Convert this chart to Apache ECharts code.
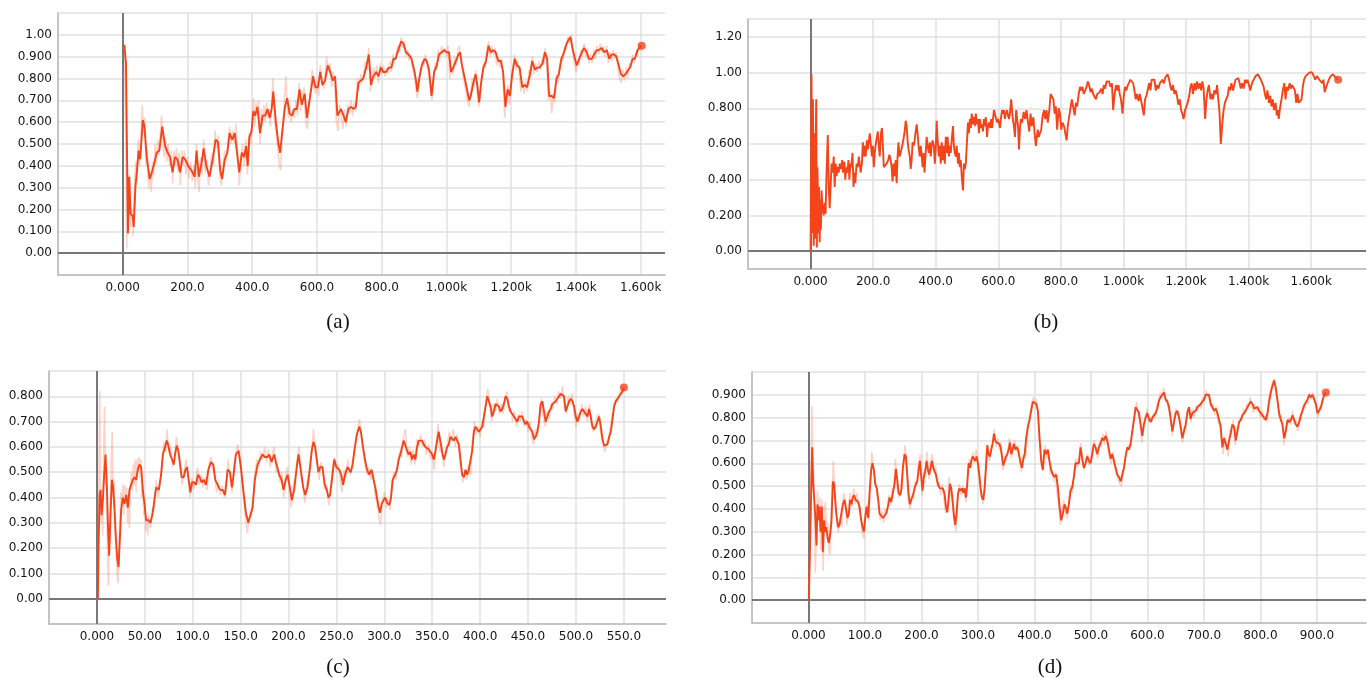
<!DOCTYPE html>
<html><head><meta charset="utf-8">
<script src="https://cdn.jsdelivr.net/npm/echarts@6/dist/echarts.min.js"></script>
<style>html,body{margin:0;padding:0;background:#fff}#c{width:1367px;height:678px}</style>
</head><body><div id="c"></div>
<script>
// ---------- data (step, value) ----------
const smoothA = [[5,0.954],[10,0.87],[16,0.09],[20,0.35],[24,0.18],[31,0.17],[34,0.12],[39,0.30],[44,0.38],[49,0.47],[54,0.43],[62,0.61],[67,0.58],[74,0.44],[83,0.34],[90,0.37],[97,0.41],[105,0.46],[113,0.47],[122,0.58],[131,0.49],[139,0.46],[146,0.44],[154,0.37],[161,0.44],[169,0.43],[177,0.37],[185,0.44],[193,0.43],[202,0.40],[212,0.38],[222,0.35],[228,0.47],[235,0.35],[243,0.41],[250,0.48],[258,0.40],[268,0.35],[279,0.44],[287,0.52],[294,0.51],[301,0.38],[307,0.34],[315,0.43],[323,0.46],[330,0.55],[338,0.52],[346,0.55],[352,0.55],[360,0.37],[368,0.46],[375,0.44],[381,0.49],[386,0.40],[391,0.53],[398,0.56],[403,0.65],[409,0.63],[416,0.67],[424,0.55],[432,0.63],[440,0.63],[447,0.66],[454,0.62],[460,0.66],[465,0.74],[473,0.60],[481,0.50],[486,0.46],[493,0.56],[501,0.67],[508,0.71],[515,0.64],[523,0.63],[530,0.66],[538,0.66],[546,0.75],[553,0.68],[562,0.73],[569,0.62],[579,0.72],[588,0.81],[595,0.76],[603,0.76],[610,0.83],[617,0.77],[625,0.79],[633,0.86],[641,0.83],[649,0.79],[656,0.81],[663,0.63],[674,0.66],[682,0.63],[689,0.60],[697,0.66],[705,0.67],[713,0.66],[720,0.67],[728,0.78],[735,0.79],[743,0.80],[752,0.85],[760,0.91],[767,0.77],[774,0.81],[783,0.83],[790,0.81],[797,0.85],[805,0.83],[813,0.83],[822,0.85],[830,0.85],[836,0.89],[843,0.89],[851,0.93],[860,0.97],[867,0.96],[875,0.92],[883,0.91],[892,0.89],[900,0.84],[906,0.79],[910,0.74],[917,0.81],[924,0.86],[932,0.89],[939,0.88],[946,0.84],[954,0.72],[962,0.83],[970,0.86],[977,0.91],[985,0.92],[992,0.93],[1001,0.92],[1008,0.92],[1014,0.83],[1021,0.85],[1029,0.88],[1037,0.91],[1042,0.92],[1048,0.86],[1055,0.81],[1062,0.76],[1070,0.70],[1075,0.72],[1083,0.78],[1090,0.82],[1096,0.76],[1101,0.69],[1107,0.78],[1114,0.85],[1122,0.88],[1130,0.95],[1137,0.92],[1145,0.93],[1152,0.92],[1160,0.88],[1168,0.88],[1175,0.83],[1182,0.67],[1189,0.75],[1196,0.72],[1203,0.82],[1211,0.89],[1218,0.86],[1226,0.85],[1234,0.76],[1242,0.77],[1249,0.76],[1258,0.82],[1265,0.88],[1273,0.84],[1280,0.85],[1288,0.85],[1297,0.87],[1304,0.92],[1311,0.89],[1317,0.72],[1325,0.72],[1332,0.71],[1340,0.80],[1347,0.82],[1355,0.89],[1363,0.92],[1371,0.96],[1378,0.98],[1383,0.99],[1389,0.94],[1397,0.89],[1402,0.86],[1410,0.89],[1418,0.92],[1425,0.94],[1433,0.92],[1440,0.89],[1449,0.89],[1456,0.91],[1464,0.93],[1471,0.93],[1479,0.94],[1487,0.92],[1495,0.93],[1503,0.89],[1510,0.91],[1518,0.91],[1525,0.90],[1532,0.86],[1539,0.82],[1546,0.81],[1553,0.82],[1559,0.82],[1567,0.85],[1575,0.89],[1582,0.89],[1590,0.93],[1596,0.94],[1603,0.95]];

const rawA = [[2,0.95],[6,0.92],[9,0.55],[12,0.02],[15,0.30],[18,0.10],[21,0.36],[25,0.12],[28,0.20],[32,0.08],[36,0.30],[40,0.42],[44,0.33],[48,0.52],[52,0.40],[56,0.55],[60,0.68],[64,0.55],[68,0.62],[72,0.40],[76,0.47],[80,0.30],[84,0.38],[88,0.28],[92,0.42],[96,0.36],[100,0.50],[104,0.41],[108,0.52],[112,0.45],[116,0.55],[120,0.63],[124,0.52],[128,0.44],[132,0.53],[136,0.42],[140,0.50],[145,0.40],[150,0.47],[154,0.32],[158,0.47],[162,0.40],[166,0.48],[170,0.37],[174,0.46],[178,0.31],[182,0.47],[186,0.40],[190,0.47],[195,0.36],[200,0.44],[205,0.34],[210,0.42],[215,0.33],[220,0.40],[224,0.30],[228,0.50],[232,0.33],[236,0.28],[240,0.44],[245,0.36],[250,0.52],[255,0.37],[260,0.43],[265,0.31],[270,0.38],[275,0.46],[280,0.40],[285,0.56],[290,0.48],[295,0.54],[300,0.35],[305,0.31],[310,0.40],[315,0.47],[320,0.42],[325,0.50],[330,0.58],[335,0.50],[340,0.56],[345,0.50],[350,0.59],[355,0.45],[360,0.31],[365,0.44],[370,0.50],[375,0.40],[380,0.52],[385,0.36],[390,0.55],[395,0.50],[400,0.60],[404,0.71],[408,0.58],[412,0.69],[416,0.63],[420,0.70],[424,0.50],[428,0.66],[432,0.58],[436,0.68],[440,0.60],[444,0.69],[448,0.62],[452,0.66],[456,0.58],[460,0.70],[464,0.80],[468,0.62],[472,0.57],[476,0.52],[480,0.46],[484,0.40],[488,0.38],[492,0.53],[496,0.60],[500,0.72],[504,0.81],[508,0.67],[512,0.62],[516,0.68],[520,0.60],[525,0.66],[530,0.62],[535,0.70],[540,0.63],[545,0.78],[550,0.65],[555,0.72],[560,0.76],[565,0.60],[570,0.57],[575,0.68],[580,0.75],[585,0.84],[590,0.77],[595,0.73],[600,0.79],[605,0.72],[610,0.86],[615,0.80],[620,0.75],[625,0.82],[630,0.90],[635,0.83],[640,0.87],[645,0.76],[650,0.83],[655,0.78],[660,0.60],[665,0.56],[670,0.68],[675,0.62],[680,0.57],[685,0.66],[690,0.58],[695,0.68],[700,0.64],[705,0.70],[710,0.63],[715,0.69],[720,0.65],[725,0.80],[730,0.75],[735,0.82],[740,0.78],[745,0.83],[750,0.88],[755,0.84],[760,0.94],[765,0.74],[770,0.79],[775,0.85],[780,0.80],[785,0.86],[790,0.78],[795,0.87],[800,0.82],[805,0.86],[810,0.81],[815,0.85],[820,0.82],[825,0.88],[830,0.83],[835,0.91],[840,0.87],[845,0.92],[850,0.95],[855,0.92],[860,0.99],[865,0.94],[870,0.97],[875,0.90],[880,0.93],[885,0.88],[890,0.91],[895,0.85],[900,0.82],[905,0.76],[910,0.71],[915,0.78],[920,0.84],[925,0.88],[930,0.86],[935,0.91],[940,0.86],[945,0.82],[950,0.76],[955,0.70],[960,0.80],[965,0.87],[970,0.84],[975,0.93],[980,0.90],[985,0.95],[990,0.91],[995,0.94],[1000,0.90],[1005,0.95],[1010,0.80],[1015,0.86],[1020,0.82],[1025,0.90],[1030,0.86],[1035,0.93],[1040,0.95],[1045,0.88],[1050,0.83],[1055,0.78],[1060,0.74],[1065,0.70],[1070,0.67],[1075,0.74],[1080,0.80],[1085,0.76],[1090,0.84],[1095,0.73],[1100,0.67],[1105,0.75],[1110,0.82],[1115,0.87],[1120,0.85],[1125,0.93],[1130,0.97],[1135,0.90],[1140,0.95],[1145,0.91],[1150,0.94],[1155,0.86],[1160,0.90],[1165,0.85],[1170,0.89],[1175,0.80],[1180,0.62],[1185,0.72],[1190,0.77],[1195,0.68],[1200,0.78],[1205,0.85],[1210,0.91],[1215,0.84],[1220,0.88],[1225,0.82],[1230,0.74],[1235,0.79],[1240,0.73],[1245,0.79],[1250,0.74],[1255,0.84],[1260,0.80],[1265,0.90],[1270,0.82],[1275,0.87],[1280,0.83],[1285,0.88],[1290,0.84],[1295,0.89],[1300,0.86],[1305,0.94],[1310,0.87],[1315,0.70],[1320,0.74],[1325,0.64],[1330,0.73],[1335,0.69],[1340,0.82],[1345,0.78],[1350,0.86],[1355,0.90],[1360,0.88],[1365,0.95],[1370,0.93],[1375,0.99],[1380,0.96],[1385,1.00],[1390,0.92],[1395,0.87],[1400,0.83],[1405,0.88],[1410,0.86],[1415,0.93],[1420,0.90],[1425,0.96],[1430,0.90],[1435,0.94],[1440,0.87],[1445,0.91],[1450,0.87],[1455,0.93],[1460,0.89],[1465,0.95],[1470,0.91],[1475,0.96],[1480,0.92],[1485,0.95],[1490,0.90],[1495,0.95],[1500,0.87],[1505,0.92],[1510,0.88],[1515,0.93],[1520,0.89],[1525,0.92],[1530,0.84],[1535,0.80],[1540,0.78],[1545,0.84],[1550,0.79],[1555,0.85],[1560,0.80],[1565,0.87],[1570,0.85],[1575,0.91],[1580,0.87],[1585,0.92],[1590,0.90],[1595,0.96],[1600,0.93],[1603,0.95]];

const lineB = [[0,0.0],[3,0.99],[5,0.10],[7.5,0.85],[10,0.03],[12,0.66],[14,0.07],[16,0.57],[18,0.85],[20,0.02],[22,0.47],[25,0.10],[27,0.36],[29,0.05],[31,0.29],[33,0.12],[35,0.34],[38,0.25],[42,0.20],[45,0.27],[48,0.21],[51,0.44],[55,0.65],[58,0.36],[61,0.24],[64,0.36],[67,0.49],[71,0.44],[74,0.53],[77,0.36],[80,0.49],[83,0.42],[87,0.47],[90,0.44],[93,0.49],[97,0.46],[101,0.51],[104,0.44],[108,0.50],[111,0.40],[114,0.47],[118,0.44],[121,0.51],[124,0.40],[127,0.49],[130,0.47],[134,0.55],[137,0.36],[140,0.44],[143,0.38],[147,0.49],[151,0.47],[154,0.53],[157,0.49],[160,0.44],[164,0.49],[167,0.61],[170,0.53],[173,0.59],[176,0.53],[180,0.62],[183,0.57],[186,0.61],[189,0.66],[193,0.59],[196,0.53],[199,0.59],[202,0.47],[205,0.55],[209,0.61],[212,0.64],[215,0.67],[218,0.59],[221,0.53],[225,0.66],[228,0.69],[231,0.59],[234,0.47],[238,0.47],[243,0.49],[248,0.51],[252,0.54],[256,0.51],[259,0.47],[262,0.39],[265,0.49],[268,0.42],[272,0.51],[275,0.38],[278,0.53],[281,0.61],[284,0.53],[288,0.55],[291,0.54],[294,0.60],[297,0.61],[300,0.66],[304,0.73],[307,0.70],[310,0.62],[313,0.57],[317,0.53],[320,0.46],[323,0.51],[326,0.61],[329,0.59],[332,0.61],[335,0.66],[339,0.71],[342,0.66],[345,0.59],[349,0.53],[352,0.59],[355,0.53],[358,0.47],[361,0.55],[364,0.44],[368,0.43],[371,0.64],[374,0.59],[378,0.55],[381,0.61],[384,0.53],[387,0.59],[390,0.62],[394,0.59],[397,0.49],[400,0.57],[403,0.73],[406,0.62],[410,0.53],[413,0.59],[416,0.49],[419,0.61],[422,0.51],[425,0.59],[429,0.49],[432,0.64],[435,0.55],[438,0.64],[442,0.53],[445,0.59],[448,0.55],[451,0.62],[455,0.70],[458,0.59],[461,0.55],[464,0.53],[467,0.59],[471,0.49],[474,0.55],[477,0.47],[480,0.51],[483,0.42],[487,0.34],[490,0.49],[493,0.46],[496,0.49],[500,0.62],[503,0.72],[506,0.66],[509,0.74],[512,0.69],[515,0.77],[519,0.71],[522,0.75],[525,0.70],[528,0.77],[532,0.71],[535,0.74],[538,0.66],[541,0.74],[545,0.69],[548,0.71],[551,0.67],[554,0.74],[557,0.70],[560,0.75],[564,0.64],[567,0.70],[570,0.72],[574,0.69],[577,0.74],[580,0.69],[583,0.74],[586,0.79],[590,0.80],[593,0.74],[596,0.72],[599,0.74],[602,0.72],[605,0.69],[608,0.74],[612,0.79],[615,0.77],[618,0.79],[621,0.74],[624,0.77],[628,0.79],[631,0.76],[634,0.74],[637,0.77],[641,0.85],[644,0.79],[647,0.73],[650,0.70],[653,0.64],[657,0.79],[660,0.74],[663,0.70],[666,0.57],[669,0.68],[672,0.74],[676,0.72],[681,0.78],[686,0.74],[690,0.79],[695,0.72],[699,0.67],[703,0.77],[707,0.70],[712,0.75],[716,0.66],[720,0.59],[722,0.58],[726,0.68],[729,0.64],[733,0.65],[737,0.68],[741,0.75],[746,0.79],[750,0.74],[754,0.79],[758,0.72],[763,0.79],[767,0.88],[771,0.87],[776,0.85],[780,0.77],[784,0.81],[788,0.68],[793,0.80],[797,0.77],[801,0.68],[805,0.72],[810,0.70],[814,0.71],[818,0.62],[822,0.70],[827,0.76],[831,0.77],[835,0.85],[839,0.81],[844,0.76],[848,0.83],[852,0.81],[856,0.87],[861,0.92],[865,0.90],[869,0.92],[873,0.88],[878,0.89],[882,0.92],[886,0.95],[890,0.93],[895,0.89],[899,0.91],[903,0.88],[907,0.87],[912,0.85],[916,0.88],[920,0.87],[924,0.89],[929,0.91],[933,0.88],[937,0.93],[941,0.91],[946,0.95],[950,0.94],[954,0.95],[958,0.92],[963,0.94],[967,0.79],[971,0.87],[976,0.93],[980,0.90],[984,0.93],[988,0.88],[992,0.85],[997,0.77],[1001,0.87],[1005,0.92],[1009,0.90],[1014,0.93],[1018,0.94],[1022,0.96],[1026,0.97],[1031,0.94],[1035,0.90],[1039,0.85],[1043,0.88],[1048,0.84],[1052,0.88],[1056,0.87],[1060,0.81],[1065,0.76],[1069,0.85],[1073,0.87],[1077,0.90],[1082,0.94],[1086,0.90],[1090,0.96],[1095,0.95],[1099,0.96],[1103,0.90],[1107,0.93],[1112,0.91],[1116,0.94],[1120,0.95],[1124,0.96],[1129,0.94],[1133,0.97],[1137,0.98],[1141,0.99],[1146,0.96],[1150,0.92],[1154,0.90],[1158,0.93],[1163,0.88],[1167,0.90],[1171,0.87],[1175,0.82],[1180,0.85],[1184,0.79],[1188,0.77],[1192,0.74],[1197,0.79],[1201,0.78],[1205,0.83],[1210,0.87],[1214,0.92],[1218,0.94],[1222,0.88],[1227,0.94],[1231,0.90],[1235,0.95],[1239,0.91],[1244,0.94],[1248,0.90],[1252,0.95],[1256,0.91],[1261,0.74],[1265,0.85],[1269,0.90],[1273,0.93],[1278,0.85],[1282,0.88],[1286,0.85],[1290,0.90],[1295,0.88],[1299,0.93],[1303,0.85],[1307,0.77],[1311,0.60],[1316,0.72],[1320,0.79],[1324,0.83],[1328,0.85],[1333,0.87],[1337,0.92],[1341,0.90],[1345,0.94],[1350,0.90],[1354,0.93],[1358,0.96],[1362,0.95],[1367,0.97],[1371,0.94],[1375,0.91],[1379,0.94],[1384,0.91],[1388,0.96],[1392,0.94],[1396,0.96],[1401,0.93],[1405,0.90],[1409,0.93],[1413,0.95],[1418,0.96],[1422,0.98],[1426,0.99],[1430,0.99],[1435,0.98],[1439,0.96],[1443,0.95],[1448,0.92],[1452,0.88],[1456,0.85],[1460,0.90],[1465,0.83],[1469,0.87],[1473,0.81],[1477,0.85],[1481,0.79],[1486,0.83],[1490,0.76],[1494,0.79],[1496,0.74],[1501,0.81],[1505,0.85],[1509,0.90],[1514,0.94],[1518,0.85],[1522,0.92],[1526,0.90],[1531,0.94],[1535,0.91],[1539,0.93],[1543,0.94],[1548,0.90],[1552,0.83],[1556,0.88],[1560,0.83],[1565,0.83],[1569,0.85],[1573,0.92],[1577,0.96],[1582,0.98],[1588,0.99],[1594,1.00],[1603,1.00],[1609,0.99],[1613,0.96],[1618,0.98],[1622,0.99],[1626,0.96],[1630,0.97],[1635,0.94],[1639,0.96],[1643,0.89],[1648,0.92],[1652,0.94],[1656,0.96],[1662,0.98],[1669,0.99],[1675,0.99],[1679,0.97],[1686,0.96]];

const smoothC = [[1,0.0],[1.7,0.20],[2.8,0.41],[3.8,0.43],[4.9,0.33],[6.2,0.39],[7.6,0.49],[9,0.57],[10.4,0.44],[11.8,0.26],[12.8,0.17],[14.2,0.34],[15.6,0.47],[17,0.44],[18.4,0.35],[19.8,0.24],[21.2,0.16],[22.6,0.125],[24,0.24],[25.3,0.35],[27,0.40],[28.8,0.375],[30.6,0.41],[32.3,0.36],[34,0.43],[35.8,0.43],[37.5,0.47],[39.2,0.48],[41,0.47],[42.7,0.51],[44.4,0.53],[46.2,0.52],[47.9,0.43],[49.7,0.375],[51.4,0.31],[53.8,0.31],[55.9,0.30],[58.3,0.34],[60,0.39],[61.8,0.44],[64.6,0.43],[67,0.49],[68.8,0.57],[71.2,0.60],[72.9,0.625],[74.6,0.605],[76.4,0.57],[78.5,0.55],[80.2,0.53],[81.6,0.57],[83.3,0.605],[85,0.585],[86.8,0.53],[88.5,0.48],[90.6,0.48],[92.4,0.51],[94.1,0.52],[95.8,0.47],[97.6,0.42],[99.3,0.46],[101.4,0.46],[103.5,0.45],[105.5,0.49],[107.3,0.48],[109.4,0.46],[111.5,0.47],[113.9,0.45],[116.3,0.51],[119.1,0.54],[121.5,0.53],[123.6,0.47],[126,0.45],[128.5,0.43],[131.2,0.43],[133.7,0.41],[136.5,0.51],[138.9,0.50],[141,0.44],[142.7,0.49],[145.1,0.57],[147.9,0.585],[150.3,0.52],[152.8,0.43],[155.5,0.34],[158,0.30],[160,0.30],[162.5,0.36],[164.9,0.47],[167.7,0.53],[170.1,0.55],[172.9,0.57],[175.3,0.56],[178.1,0.56],[179.8,0.57],[182.3,0.54],[185,0.57],[187.5,0.53],[190.3,0.49],[192.7,0.47],[194.8,0.43],[197.2,0.47],[199,0.49],[201.4,0.44],[203.5,0.39],[205.9,0.43],[208.3,0.51],[210.4,0.57],[212.8,0.51],[215.3,0.44],[217.4,0.41],[219.8,0.44],[222.2,0.51],[224.3,0.585],[226,0.62],[227.8,0.60],[229.5,0.55],[231.2,0.50],[233,0.52],[235.4,0.52],[237.8,0.45],[239.9,0.43],[241.7,0.40],[243.4,0.41],[245.3,0.47],[247.7,0.55],[250,0.52],[253,0.51],[255,0.49],[257,0.45],[259,0.49],[261.6,0.52],[263.4,0.51],[265,0.50],[266.9,0.53],[269.3,0.60],[271.4,0.65],[273.8,0.68],[275.6,0.66],[277.3,0.61],[279.8,0.55],[281.9,0.51],[284.3,0.49],[286.7,0.51],[288.8,0.47],[290.6,0.44],[292.3,0.40],[294.1,0.36],[295.5,0.34],[297.2,0.375],[299.3,0.39],[301,0.40],[302.8,0.38],[305.2,0.37],[307,0.40],[308.7,0.47],[311.2,0.49],[313.3,0.51],[315,0.55],[316.7,0.57],[318.5,0.60],[320.2,0.625],[322,0.63],[323.7,0.585],[325.5,0.57],[327.2,0.58],[328.9,0.55],[330.7,0.57],[332.4,0.55],[334.2,0.60],[335.9,0.625],[337.7,0.62],[339.4,0.625],[341.1,0.61],[342.9,0.60],[344.6,0.60],[346.4,0.59],[348.1,0.585],[349.9,0.57],[351.6,0.55],[353.4,0.585],[355.1,0.625],[356.8,0.66],[358.6,0.62],[360.3,0.58],[362.1,0.55],[363.8,0.57],[365.6,0.60],[367.3,0.61],[369,0.64],[370.8,0.645],[372.5,0.625],[374.3,0.64],[376,0.64],[377.8,0.61],[379.5,0.55],[381.2,0.49],[383,0.48],[384.7,0.51],[386.5,0.49],[388.2,0.51],[390,0.51],[391.7,0.585],[393.5,0.66],[395.2,0.68],[396.9,0.67],[398.7,0.66],[400.4,0.66],[402.2,0.68],[403.9,0.72],[405.7,0.76],[407.4,0.80],[409.1,0.80],[410.9,0.76],[412.6,0.72],[414.4,0.74],[416.1,0.77],[417.9,0.77],[419.6,0.76],[421.3,0.74],[423.1,0.75],[424.8,0.77],[426.6,0.80],[428.3,0.79],[430.1,0.76],[431.8,0.74],[433.6,0.73],[435.3,0.72],[437,0.71],[438.8,0.70],[440.5,0.72],[442.3,0.72],[444,0.72],[445.8,0.70],[447.5,0.69],[449.2,0.70],[451,0.68],[452.7,0.68],[454.5,0.66],[456.2,0.63],[458,0.64],[459.7,0.66],[461.5,0.70],[463.2,0.77],[464.9,0.78],[466.7,0.74],[468.4,0.70],[470.2,0.72],[471.9,0.74],[473.7,0.75],[475.4,0.77],[477.1,0.77],[478.9,0.78],[480.6,0.79],[482.4,0.80],[484.1,0.81],[485.9,0.815],[487.6,0.80],[489.3,0.74],[491.1,0.76],[492.8,0.78],[494.6,0.79],[496.3,0.78],[498.1,0.76],[499.8,0.72],[501.5,0.70],[503.3,0.72],[505,0.74],[506.8,0.75],[508.5,0.74],[510.3,0.74],[512,0.72],[513.7,0.75],[515.5,0.72],[517.2,0.68],[519,0.67],[520.7,0.68],[522.5,0.70],[524.2,0.72],[526,0.68],[527.7,0.63],[529.4,0.605],[531.2,0.60],[532.9,0.61],[534.7,0.64],[536.4,0.66],[538.2,0.71],[539.9,0.76],[541.6,0.78],[543.4,0.79],[545.1,0.80],[546.9,0.81],[548.6,0.82],[550,0.835]];

const rawC = [[1,0.0],[2,0.45],[3,0.82],[4,0.30],[5,0.40],[6,0.25],[7,0.55],[8,0.76],[9,0.45],[10,0.52],[11,0.20],[12,0.05],[13,0.30],[14,0.22],[15,0.55],[16,0.66],[17,0.40],[18,0.46],[19,0.28],[20,0.20],[21,0.10],[22,0.06],[23,0.18],[24,0.30],[25,0.42],[26,0.38],[27,0.45],[28,0.33],[29,0.45],[30,0.38],[31,0.44],[32,0.30],[33,0.40],[34,0.28],[35,0.45],[36,0.50],[37,0.43],[38,0.53],[39,0.45],[40,0.55],[41,0.42],[42,0.55],[43,0.50],[44,0.56],[45,0.48],[46,0.55],[47,0.40],[48,0.45],[49,0.33],[50,0.38],[51,0.27],[52,0.32],[53,0.25],[54,0.33],[56,0.28],[58,0.36],[60,0.35],[62,0.47],[64,0.40],[66,0.46],[68,0.52],[70,0.62],[72,0.58],[73,0.67],[75,0.58],[77,0.60],[79,0.52],[81,0.55],[83,0.64],[85,0.57],[87,0.55],[89,0.45],[91,0.50],[93,0.55],[95,0.49],[97,0.40],[99,0.48],[101,0.43],[103,0.47],[105,0.52],[107,0.45],[109,0.49],[111,0.44],[113,0.48],[115,0.43],[117,0.53],[119,0.56],[121,0.51],[123,0.48],[125,0.42],[127,0.46],[129,0.41],[131,0.45],[133,0.40],[135,0.44],[137,0.55],[139,0.48],[141,0.42],[143,0.52],[145,0.58],[147,0.61],[149,0.55],[151,0.48],[153,0.40],[155,0.32],[157,0.26],[159,0.32],[161,0.33],[163,0.40],[165,0.50],[167,0.55],[169,0.52],[171,0.58],[173,0.55],[175,0.60],[177,0.54],[179,0.59],[181,0.52],[183,0.57],[185,0.60],[187,0.50],[189,0.51],[191,0.46],[193,0.50],[195,0.40],[197,0.49],[199,0.52],[201,0.42],[203,0.36],[205,0.45],[207,0.48],[209,0.55],[211,0.60],[213,0.48],[215,0.45],[217,0.38],[219,0.46],[221,0.49],[223,0.55],[225,0.62],[226,0.67],[228,0.58],[230,0.53],[232,0.47],[234,0.54],[236,0.50],[238,0.43],[240,0.45],[242,0.37],[244,0.44],[246,0.52],[248,0.56],[250,0.50],[252,0.53],[254,0.47],[256,0.42],[258,0.51],[260,0.48],[262,0.55],[264,0.49],[266,0.52],[268,0.57],[270,0.62],[272,0.66],[274,0.71],[276,0.64],[278,0.59],[280,0.53],[282,0.49],[284,0.52],[286,0.47],[288,0.50],[290,0.42],[292,0.38],[294,0.33],[296,0.29],[298,0.38],[300,0.42],[302,0.36],[304,0.39],[306,0.35],[308,0.45],[310,0.50],[312,0.47],[314,0.54],[316,0.58],[318,0.56],[320,0.64],[322,0.67],[324,0.56],[326,0.60],[328,0.53],[330,0.59],[332,0.53],[334,0.63],[336,0.60],[338,0.65],[340,0.60],[342,0.63],[344,0.57],[346,0.61],[348,0.55],[350,0.58],[352,0.51],[354,0.60],[356,0.69],[358,0.58],[360,0.60],[362,0.52],[364,0.58],[366,0.62],[368,0.66],[370,0.62],[372,0.67],[374,0.60],[376,0.65],[378,0.58],[380,0.52],[382,0.46],[384,0.50],[386,0.47],[388,0.53],[390,0.49],[392,0.62],[394,0.70],[396,0.65],[398,0.68],[400,0.64],[402,0.70],[404,0.68],[406,0.78],[408,0.83],[410,0.76],[412,0.70],[414,0.77],[416,0.74],[418,0.79],[420,0.73],[422,0.77],[424,0.73],[426,0.79],[428,0.82],[430,0.74],[432,0.75],[434,0.70],[436,0.74],[438,0.68],[440,0.73],[442,0.70],[444,0.74],[446,0.68],[448,0.71],[450,0.66],[452,0.70],[454,0.63],[456,0.61],[458,0.67],[460,0.64],[462,0.73],[464,0.79],[466,0.72],[468,0.68],[470,0.74],[472,0.71],[474,0.77],[476,0.75],[478,0.80],[480,0.77],[482,0.82],[484,0.79],[486,0.84],[488,0.76],[490,0.73],[492,0.80],[494,0.77],[496,0.81],[498,0.74],[500,0.68],[502,0.73],[504,0.71],[506,0.77],[508,0.72],[510,0.76],[512,0.70],[514,0.77],[516,0.70],[518,0.66],[520,0.69],[522,0.72],[524,0.73],[526,0.65],[528,0.62],[530,0.58],[532,0.62],[534,0.63],[536,0.68],[538,0.73],[540,0.77],[542,0.79],[544,0.78],[546,0.82],[548,0.81],[550,0.835]];

const smoothD = [[0.6,0.0],[3.5,0.32],[5.3,0.54],[6.5,0.67],[8.3,0.51],[10,0.45],[12.4,0.35],[14.2,0.24],[15.9,0.42],[17.7,0.35],[19.5,0.41],[21.3,0.30],[23.6,0.41],[25.4,0.21],[27.8,0.35],[29.5,0.30],[31.3,0.32],[33.7,0.275],[36,0.25],[38.4,0.29],[40.8,0.35],[43.1,0.52],[45.5,0.51],[47.8,0.42],[50.2,0.36],[52.6,0.32],[54.9,0.33],[57.9,0.335],[60.8,0.42],[63.8,0.44],[66.7,0.44],[69.1,0.36],[71.5,0.38],[73.8,0.44],[76.2,0.42],[78.5,0.45],[80.9,0.46],[83.3,0.44],[85.6,0.44],[88,0.43],[90.4,0.41],[92.7,0.36],[95.7,0.32],[98,0.30],[100.4,0.36],[102.8,0.41],[105.7,0.36],[108.1,0.47],[111,0.57],[113.4,0.60],[115.8,0.57],[118.1,0.51],[121.1,0.49],[123.4,0.44],[125.8,0.38],[128.7,0.37],[131.7,0.36],[134.7,0.37],[137.6,0.38],[140.6,0.41],[143.5,0.45],[146.5,0.43],[149.4,0.47],[152.4,0.51],[154.7,0.575],[157.1,0.53],[159.5,0.47],[162.4,0.46],[164.8,0.49],[167.1,0.58],[170.1,0.64],[172.5,0.63],[174.8,0.55],[177.2,0.465],[179.5,0.42],[181.9,0.44],[184.9,0.46],[187.8,0.49],[190.2,0.51],[192.5,0.52],[194.9,0.57],[197.3,0.61],[199.6,0.54],[202,0.48],[204.3,0.54],[206.7,0.57],[209.1,0.61],[211.4,0.57],[213.8,0.55],[216.2,0.58],[218.5,0.61],[220.9,0.58],[223.2,0.58],[225.6,0.55],[228,0.52],[230.3,0.50],[232.7,0.49],[235.1,0.49],[238,0.49],[241,0.465],[243.3,0.41],[245.7,0.385],[248.1,0.44],[250.4,0.51],[252.8,0.49],[255.1,0.44],[257.5,0.37],[259.9,0.33],[262.2,0.38],[264.6,0.465],[267,0.49],[269.3,0.48],[271.7,0.49],[274,0.47],[276.4,0.49],[278.8,0.45],[281.1,0.51],[283.5,0.60],[285.9,0.58],[288.2,0.61],[290.6,0.63],[292.9,0.63],[295.3,0.61],[297.7,0.63],[300,0.60],[302.4,0.55],[304.7,0.49],[307.1,0.45],[309.5,0.44],[311.8,0.49],[314.2,0.58],[316.6,0.68],[318.9,0.64],[321.3,0.63],[323.6,0.66],[326,0.685],[328.4,0.73],[330.7,0.70],[333.1,0.69],[335.5,0.69],[337.8,0.685],[340.2,0.67],[342.5,0.63],[344.9,0.59],[347.3,0.61],[349.6,0.63],[352,0.64],[354.4,0.66],[356.7,0.69],[359.1,0.64],[361.4,0.66],[363.8,0.685],[366.2,0.66],[368.5,0.67],[370.9,0.66],[373.3,0.66],[375.6,0.60],[378,0.58],[380.4,0.62],[382.7,0.64],[385.4,0.71],[388.3,0.76],[391.3,0.79],[394.2,0.83],[397.2,0.87],[400.2,0.875],[403.1,0.86],[406.1,0.83],[409,0.71],[412,0.61],[414.9,0.57],[417.9,0.66],[420.8,0.64],[423.8,0.66],[426.7,0.61],[429.7,0.57],[432.6,0.55],[435.6,0.54],[438.6,0.55],[441.5,0.495],[444.5,0.41],[447.4,0.35],[450.4,0.38],[453.3,0.42],[456.3,0.40],[458,0.38],[461,0.42],[464,0.48],[466.9,0.495],[469.9,0.54],[472.8,0.60],[475.8,0.60],[478.7,0.60],[481.7,0.67],[484.6,0.62],[487.6,0.58],[490.5,0.60],[493.5,0.63],[496.5,0.61],[499.4,0.60],[502.4,0.64],[505.3,0.685],[508.3,0.67],[511.2,0.64],[514.2,0.67],[517.1,0.69],[520.1,0.71],[523,0.70],[526,0.72],[528.9,0.70],[531.9,0.66],[534.9,0.62],[537.8,0.64],[540.8,0.61],[543.7,0.58],[546.7,0.55],[549.6,0.54],[552.6,0.52],[555.5,0.55],[558.5,0.58],[561.4,0.63],[564.4,0.67],[567.4,0.66],[570.3,0.685],[573.3,0.74],[576.2,0.79],[579.2,0.846],[582.1,0.853],[585.1,0.82],[588,0.77],[591,0.72],[593.9,0.77],[596.9,0.80],[599.8,0.82],[602.8,0.795],[605.8,0.78],[608.7,0.80],[611.7,0.81],[614.6,0.82],[617.6,0.84],[620.5,0.875],[623.5,0.89],[626.4,0.90],[629.4,0.91],[632.3,0.88],[635.3,0.87],[638.3,0.846],[641.2,0.795],[644.2,0.74],[647.1,0.78],[650.1,0.82],[653,0.83],[656,0.80],[658.9,0.76],[661.9,0.71],[664.8,0.74],[667.8,0.77],[670.7,0.82],[673.7,0.846],[676.6,0.795],[679.6,0.82],[682.6,0.82],[685.5,0.83],[688.5,0.846],[691.4,0.84],[694.4,0.86],[697.3,0.87],[700.3,0.88],[703.2,0.90],[706.2,0.90],[709.1,0.90],[712.1,0.86],[715,0.846],[718,0.83],[721,0.84],[723.9,0.82],[726.9,0.79],[729.8,0.76],[732.8,0.67],[735.7,0.71],[738.7,0.685],[741.6,0.66],[744.6,0.70],[747.5,0.73],[750.5,0.77],[753.5,0.76],[756.4,0.70],[759.4,0.74],[762.3,0.78],[765.3,0.79],[768.2,0.81],[771.2,0.82],[774.1,0.83],[777.1,0.846],[780.1,0.86],[783,0.87],[786,0.86],[788.9,0.84],[791.9,0.846],[794.8,0.846],[797.8,0.83],[800.7,0.82],[803.7,0.82],[806.6,0.80],[809.6,0.79],[812.6,0.82],[815.5,0.87],[818.5,0.91],[821.4,0.94],[824.4,0.963],[827.3,0.93],[830.3,0.875],[833.2,0.82],[836.2,0.79],[839.1,0.77],[842.1,0.71],[845,0.74],[848,0.79],[851,0.78],[853.9,0.79],[856.9,0.81],[859.8,0.79],[862.8,0.77],[865.7,0.76],[868.7,0.78],[871.6,0.81],[874.6,0.83],[877.5,0.853],[880.5,0.86],[883.4,0.88],[886.4,0.90],[889.3,0.89],[892.3,0.90],[895.3,0.90],[898.2,0.86],[901.2,0.82],[904.1,0.83],[907.1,0.846],[910,0.875],[913,0.90],[916,0.91]];

const rawD = [[1,0.0],[3,0.40],[5,0.62],[6,0.85],[8,0.60],[10,0.50],[12,0.12],[14,0.30],[16,0.48],[18,0.38],[20,0.45],[22,0.22],[24,0.44],[26,0.13],[28,0.40],[30,0.43],[32,0.30],[34,0.34],[36,0.22],[38,0.20],[40,0.36],[42,0.45],[44,0.61],[46,0.48],[48,0.45],[50,0.33],[53,0.30],[56,0.36],[59,0.32],[62,0.47],[65,0.44],[68,0.33],[71,0.42],[74,0.47],[77,0.41],[80,0.49],[83,0.42],[86,0.47],[89,0.40],[92,0.38],[95,0.30],[98,0.27],[101,0.38],[104,0.42],[107,0.35],[110,0.55],[112,0.65],[115,0.58],[118,0.53],[121,0.46],[124,0.44],[127,0.35],[130,0.39],[133,0.34],[136,0.40],[139,0.38],[142,0.46],[145,0.42],[148,0.49],[151,0.48],[154,0.62],[157,0.50],[160,0.45],[163,0.49],[166,0.55],[169,0.62],[171,0.68],[174,0.57],[177,0.43],[180,0.40],[183,0.46],[186,0.44],[189,0.52],[192,0.50],[195,0.60],[198,0.64],[201,0.46],[204,0.56],[207,0.54],[210,0.65],[213,0.53],[216,0.60],[219,0.64],[222,0.56],[225,0.59],[228,0.50],[231,0.52],[234,0.46],[237,0.51],[240,0.44],[243,0.38],[246,0.42],[249,0.54],[252,0.46],[255,0.42],[258,0.34],[261,0.30],[264,0.44],[267,0.51],[270,0.46],[273,0.50],[276,0.47],[279,0.43],[282,0.55],[285,0.62],[288,0.58],[291,0.65],[294,0.60],[297,0.66],[300,0.58],[303,0.52],[306,0.46],[309,0.42],[312,0.51],[315,0.66],[318,0.66],[321,0.61],[324,0.68],[327,0.70],[329,0.75],[332,0.67],[335,0.71],[338,0.66],[341,0.69],[344,0.57],[347,0.63],[350,0.61],[353,0.66],[356,0.71],[359,0.62],[362,0.68],[365,0.70],[368,0.65],[371,0.68],[374,0.62],[377,0.56],[380,0.64],[383,0.62],[386,0.66],[389,0.75],[392,0.80],[395,0.85],[398,0.89],[401,0.86],[404,0.88],[407,0.80],[410,0.68],[413,0.58],[416,0.63],[419,0.68],[422,0.62],[425,0.65],[428,0.55],[431,0.57],[434,0.52],[437,0.56],[440,0.47],[443,0.42],[446,0.33],[449,0.40],[452,0.44],[455,0.38],[458,0.36],[461,0.44],[464,0.50],[467,0.47],[470,0.56],[473,0.62],[476,0.58],[479,0.62],[482,0.69],[485,0.60],[488,0.57],[491,0.62],[494,0.64],[497,0.59],[500,0.62],[503,0.66],[506,0.70],[509,0.65],[512,0.62],[515,0.69],[518,0.67],[521,0.73],[524,0.68],[527,0.74],[530,0.67],[533,0.63],[536,0.60],[539,0.65],[542,0.59],[545,0.56],[548,0.53],[551,0.51],[554,0.50],[557,0.56],[560,0.61],[563,0.65],[566,0.68],[569,0.67],[572,0.72],[575,0.78],[578,0.83],[581,0.87],[584,0.81],[587,0.78],[590,0.69],[593,0.78],[596,0.79],[599,0.84],[602,0.78],[605,0.80],[608,0.78],[611,0.82],[614,0.80],[617,0.86],[620,0.87],[623,0.91],[626,0.89],[629,0.93],[632,0.87],[635,0.88],[638,0.83],[641,0.81],[644,0.72],[647,0.79],[650,0.84],[653,0.81],[656,0.82],[659,0.74],[662,0.69],[665,0.76],[668,0.75],[671,0.84],[674,0.82],[677,0.78],[680,0.84],[683,0.80],[686,0.85],[689,0.83],[692,0.86],[695,0.84],[698,0.89],[701,0.87],[704,0.92],[707,0.89],[710,0.88],[713,0.84],[716,0.86],[719,0.81],[722,0.85],[725,0.78],[728,0.77],[731,0.70],[734,0.64],[737,0.72],[740,0.68],[743,0.63],[746,0.74],[749,0.76],[752,0.79],[755,0.68],[758,0.75],[761,0.77],[764,0.80],[767,0.79],[770,0.84],[773,0.82],[776,0.86],[779,0.84],[782,0.89],[785,0.85],[788,0.82],[791,0.86],[794,0.83],[797,0.85],[800,0.80],[803,0.83],[806,0.79],[809,0.81],[812,0.78],[815,0.89],[818,0.92],[821,0.95],[824,0.97],[827,0.92],[830,0.88],[833,0.80],[836,0.81],[839,0.76],[842,0.68],[845,0.76],[848,0.77],[851,0.80],[854,0.77],[857,0.83],[860,0.77],[863,0.79],[866,0.74],[869,0.80],[872,0.79],[875,0.85],[878,0.84],[881,0.87],[884,0.86],[887,0.91],[890,0.88],[893,0.91],[896,0.88],[899,0.84],[902,0.80],[905,0.85],[908,0.84],[911,0.88],[914,0.90],[916,0.91]];

// ---------- tick labels ----------
const xTicksA = [0,200,400,600,800,1000,1200,1400,1600];
const xLabelsA = ['0.000','200.0','400.0','600.0','800.0','1.000k','1.200k','1.400k','1.600k'];
const yTicksA = [0,0.1,0.2,0.3,0.4,0.5,0.6,0.7,0.8,0.9,1.0];
const yLabelsA = ['0.00','0.100','0.200','0.300','0.400','0.500','0.600','0.700','0.800','0.900','1.00'];
const xTicksB = xTicksA;
const xLabelsB = xLabelsA;
const yTicksB = [0,0.2,0.4,0.6,0.8,1.0,1.2];
const yLabelsB = ['0.00','0.200','0.400','0.600','0.800','1.00','1.20'];
const xTicksC = [0,50,100,150,200,250,300,350,400,450,500,550];
const xLabelsC = ['0.000','50.00','100.0','150.0','200.0','250.0','300.0','350.0','400.0','450.0','500.0','550.0'];
const yTicksC = [0,0.1,0.2,0.3,0.4,0.5,0.6,0.7,0.8];
const yLabelsC = ['0.00','0.100','0.200','0.300','0.400','0.500','0.600','0.700','0.800'];
const xTicksD = [0,100,200,300,400,500,600,700,800,900];
const xLabelsD = ['0.000','100.0','200.0','300.0','400.0','500.0','600.0','700.0','800.0','900.0'];
const yTicksD = [0,0.1,0.2,0.3,0.4,0.5,0.6,0.7,0.8,0.9];
const yLabelsD = ['0.00','0.100','0.200','0.300','0.400','0.500','0.600','0.700','0.800','0.900'];
const captions = ['(a)','(b)','(c)','(d)'];

// ---------- layout ----------
const LINE = '#f3441a';
const RAW = 'rgba(245,110,75,0.3)';
const GRIDC = '#e0e0e0';
const AXC = '#b9b9b9';
const ZEROC = '#787878';
const TXT = '#141414';
const FONT = 'DejaVu Sans';

const panels = [
  {grid:{left:58,top:13,width:607,height:262}, x:[-200,1675,200], y:[-0.1,1.1,0.1], xt:xTicksA, xl:xLabelsA, yt:yTicksA, yl:yLabelsA, main:smoothA, raw:rawA, cap:[338,322]},
  {grid:{left:748,top:19,width:618,height:250}, x:[-200,1775,200], y:[-0.1,1.3,0.2], xt:xTicksB, xl:xLabelsB, yt:yTicksB, yl:yLabelsB, main:lineB, raw:null, cap:[1046,322]},
  {grid:{left:49,top:371,width:617,height:253}, x:[-50,594,50], y:[-0.1,0.9,0.1], xt:xTicksC, xl:xLabelsC, yt:yTicksC, yl:yLabelsC, main:smoothC, raw:rawC, cap:[338,667]},
  {grid:{left:752,top:372,width:614,height:251}, x:[-100,987,100], y:[-0.1,1.0,0.1], xt:xTicksD, xl:xLabelsD, yt:yTicksD, yl:yLabelsD, main:smoothD, raw:rawD, cap:[1050,667]}
];

function lookup(v, ticks, labels){
  for (let i=0;i<ticks.length;i++) if (Math.abs(ticks[i]-v) < 1e-6) return labels[i];
  return '';
}

const grids=[], xAxes=[], yAxes=[], series=[], graphics=[];
panels.forEach((p,i)=>{
  grids.push(Object.assign({outerBoundsMode:'none', containLabel:false}, p.grid));
  const lbl = {color:TXT, fontFamily:FONT, fontSize:12, showMinLabel:false, showMaxLabel:false};
  xAxes.push({gridIndex:i, type:'value', min:p.x[0], max:p.x[1], interval:p.x[2],
    axisLine:{show:true, onZero:false, lineStyle:{color:AXC, width:1.5}},
    axisTick:{show:false},
    splitLine:{show:true, showMaxLine:false, lineStyle:{color:GRIDC, width:1.5}},
    axisLabel:Object.assign({margin:7, formatter:(v)=>lookup(v,p.xt,p.xl)}, lbl)});
  const ya = {gridIndex:i, type:'value', min:p.y[0], max:p.y[1],
    axisLine:{show:true, onZero:false, lineStyle:{color:AXC, width:1.5}},
    axisTick:{show:false},
    splitLine:{show:true, lineStyle:{color:GRIDC, width:1.5}},
    axisLabel:Object.assign({margin:6, formatter:(v)=>lookup(v,p.yt,p.yl)}, lbl)};
  if (p.y[2] === 0.2) { ya.minInterval = 0.2; ya.maxInterval = 0.2; ya.splitNumber = 7; }
  else ya.interval = p.y[2];
  yAxes.push(ya);
  series.push({type:'line', xAxisIndex:i, yAxisIndex:i, data:[], silent:true, z:1,
    markLine:{silent:true, symbol:['none','none'], animation:false, label:{show:false},
      lineStyle:{color:ZEROC, width:2, type:'solid'},
      emphasis:{disabled:true},
      data:[{xAxis:0},{yAxis:0}]}});
  if (p.raw) series.push({type:'line', xAxisIndex:i, yAxisIndex:i, data:p.raw, showSymbol:false, symbol:'none', silent:true, z:5,
    lineStyle:{color:RAW, width:1.6}, animation:false});
  series.push({type:'line', xAxisIndex:i, yAxisIndex:i, data:p.main, showSymbol:false, symbol:'none', silent:true, z:10,
    lineStyle:{color:LINE, width:1.9}, animation:false});
  series.push({type:'scatter', xAxisIndex:i, yAxisIndex:i, data:[p.main[p.main.length-1]], symbolSize:8, silent:true, z:11,
    itemStyle:{color:LINE}, animation:false});
  graphics.push({type:'text', x:p.cap[0], y:p.cap[1], silent:true,
    style:{text:captions[i], fill:'#111', font:'21px "Liberation Serif"', textAlign:'center', textVerticalAlign:'middle'}});
});

const chart = echarts.init(document.getElementById('c'), null, {renderer:'canvas'});
chart.setOption({
  animation:false,
  backgroundColor:'#fff',
  grid:grids, xAxis:xAxes, yAxis:yAxes, series:series, graphic:graphics
});
</script>
</body></html>
